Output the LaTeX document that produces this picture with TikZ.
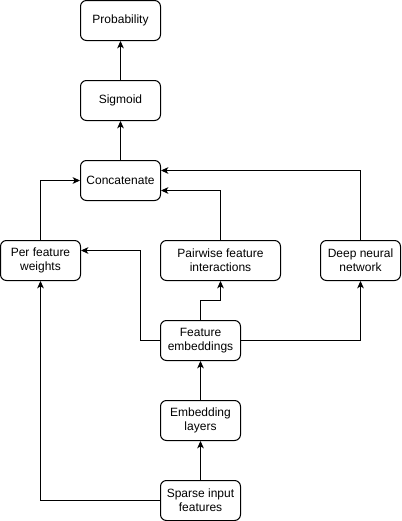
\documentclass[tikz,border=0pt]{standalone}
\usepackage{fontspec}
\setmainfont{Liberation Sans}
\usetikzlibrary{arrows.meta}
\begin{document}
\begin{tikzpicture}[x=0.75pt,y=-0.75pt,
  box/.style={draw=black,line width=0.75pt,rounded corners=4.5pt,fill=white,align=center,inner sep=0pt,font=\fontsize{9pt}{10.5pt}\selectfont},
  conn/.style={draw=black,line width=0.75pt,-{Stealth[length=5.5pt,width=5pt,inset=1.5pt]}}]
\useasboundingbox (-0.5,-0.5) rectangle (400.5,520.5);
\node[box,minimum width=60pt,minimum height=30pt] (prob) at (120,20) {Probability};
\node[box,minimum width=60pt,minimum height=30pt] (sig) at (120,100) {Sigmoid};
\node[box,minimum width=60pt,minimum height=30pt] (cat) at (120,180) {Concatenate};
\node[box,minimum width=60pt,minimum height=30pt] (pfw) at (40,260) {Per feature\\weights};
\node[box,minimum width=90pt,minimum height=30pt] (pwi) at (220,260) {Pairwise feature\\interactions};
\node[box,minimum width=60pt,minimum height=30pt] (dnn) at (360,260) {Deep neural\\network};
\node[box,minimum width=60pt,minimum height=30pt] (emb) at (200,340) {Feature\\embeddings};
\node[box,minimum width=60pt,minimum height=30pt] (lay) at (200,420) {Embedding\\layers};
\node[box,minimum width=60pt,minimum height=30pt] (sp) at (200,500) {Sparse input\\features};
\draw[conn] (sig) -- (prob);
\draw[conn] (cat) -- (sig);
\draw[conn] (pfw.north) |- (cat.west);
\draw[conn] (pwi.north) |- ([yshift=-7.5pt]cat.east);
\draw[conn] (dnn.north) |- ([yshift=7.5pt]cat.east);
\draw[conn] (emb.west) -- ++(-20,0) |- ([yshift=7.5pt]pfw.east);
\draw[conn] (emb.north) -- ++(0,-20) -| (pwi.south);
\draw[conn] (emb.east) -| (dnn.south);
\draw[conn] (lay) -- (emb);
\draw[conn] (sp) -- (lay);
\draw[conn] (sp.west) -| (pfw.south);
\end{tikzpicture}
\end{document}
